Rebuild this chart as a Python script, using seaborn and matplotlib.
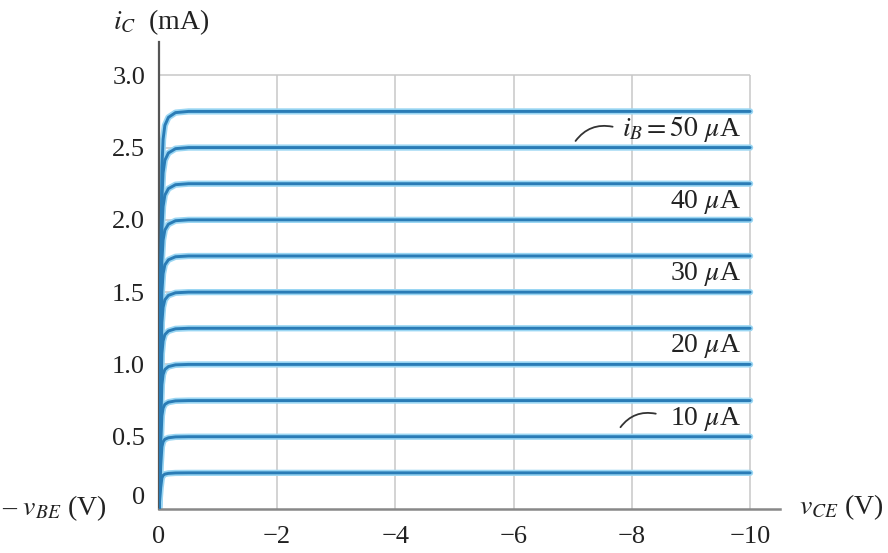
import seaborn as sns
import matplotlib.pyplot as plt
import pandas as pd

# collector current levels (mA) for each base current step (uA)
i_b = [5, 10, 15, 20, 25, 30, 35, 40, 45, 50, 55]
i_c = [0.25, 0.5, 0.75, 1.0, 1.25, 1.5, 1.75, 2.0, 2.25, 2.5, 2.75]

# shape of the knee near v_CE = 0
knee_v = [0, -0.03, -0.05, -0.07, -0.1, -0.16, -0.28, -0.5, -10]
knee_frac = [0, 0.6, 0.86, 0.93, 0.965, 0.985, 0.997, 1.0, 1.0]

x_ticks = [0, -2, -4, -6, -8, -10]
x_labels = ["0", "\u22122", "\u22124", "\u22126", "\u22128", "\u221210"]
y_ticks = [0, 0.5, 1.0, 1.5, 2.0, 2.5, 3.0]
y_labels = ["0", "0.5", "1.0", "1.5", "2.0", "2.5", "3.0"]

labels = ["$i_B = 50$ $\\mu$A", "40 $\\mu$A", "30 $\\mu$A", "20 $\\mu$A", "10 $\\mu$A"]
label_y = [2.625, 2.125, 1.625, 1.125, 0.625]

rows = []
for ib, ic in zip(i_b, i_c):
    for v, f in zip(knee_v, knee_frac):
        rows.append({"ib": ib, "vce": v, "ic": ic * f})
df = pd.DataFrame(rows)

sns.set_theme(style="white")
plt.rcParams["font.family"] = ["Liberation Serif", "DejaVu Serif"]
plt.rcParams["mathtext.fontset"] = "stix"

fig = plt.figure(figsize=(8.88, 5.53), dpi=100)
ax = fig.add_axes([0.179, 0.0796, 0.699, 0.8444])

# grid only inside the 0..-10, 0..3 box
ax.vlines(x_ticks[1:], 0, 3.0, color="#c8c8c8", lw=1.1, zorder=1)
ax.hlines(y_ticks[1:], 0, -10, color="#c8c8c8", lw=1.1, zorder=1)

# light halo then darker core
sns.lineplot(data=df, x="vce", y="ic", units="ib", estimator=None,
             color="#9ad6f3", lw=4.5, ax=ax, zorder=2)
sns.lineplot(data=df, x="vce", y="ic", units="ib", estimator=None,
             color="#2a7cb6", lw=2.1, ax=ax, zorder=3)

ax.set_xlim(0, -10.5)
ax.set_ylim(0, 3.23)
ax.set_xticks(x_ticks)
ax.set_xticklabels(x_labels)
ax.set_yticks(y_ticks)
ax.set_yticklabels(y_labels)
ax.get_yticklabels()[0].set_va("bottom")
ax.tick_params(axis="x", length=0, pad=12, labelsize=19, labelcolor="#222222")
ax.tick_params(axis="y", length=0, pad=10, labelsize=19, labelcolor="#222222")
ax.set_xlabel("")
ax.set_ylabel("")

for s in ["top", "right"]:
    ax.spines[s].set_visible(False)
ax.spines["left"].set_color("#555555")
ax.spines["left"].set_linewidth(1.6)
ax.spines["bottom"].set_color("#888888")
ax.spines["bottom"].set_linewidth(1.8)

for txt, y in zip(labels, label_y):
    ax.text(-9.85, y, txt, ha="right", va="center", fontsize=20, color="#222222", zorder=4)

# leader marks
ax.annotate("", xy=(-7.02, 2.53), xytext=(-7.72, 2.64),
            arrowprops=dict(arrowstyle="-", color="#333333", lw=1.3,
                            connectionstyle="arc3,rad=0.35"))
ax.annotate("", xy=(-7.78, 0.55), xytext=(-8.45, 0.655),
            arrowprops=dict(arrowstyle="-", color="#333333", lw=1.3,
                            connectionstyle="arc3,rad=0.35"))

fig.text(0.127, 0.96, "$i_C$  (mA)", fontsize=20, ha="left", va="center", color="#222222")
fig.text(0.900, 0.083, "$v_{CE}$ (V)", fontsize=20, ha="left", va="center", color="#222222")
fig.text(0.002, 0.081, "\u2013 $v_{BE}$ (V)", fontsize=20, ha="left", va="center", color="#222222")

plt.savefig("out.png", dpi=100)
